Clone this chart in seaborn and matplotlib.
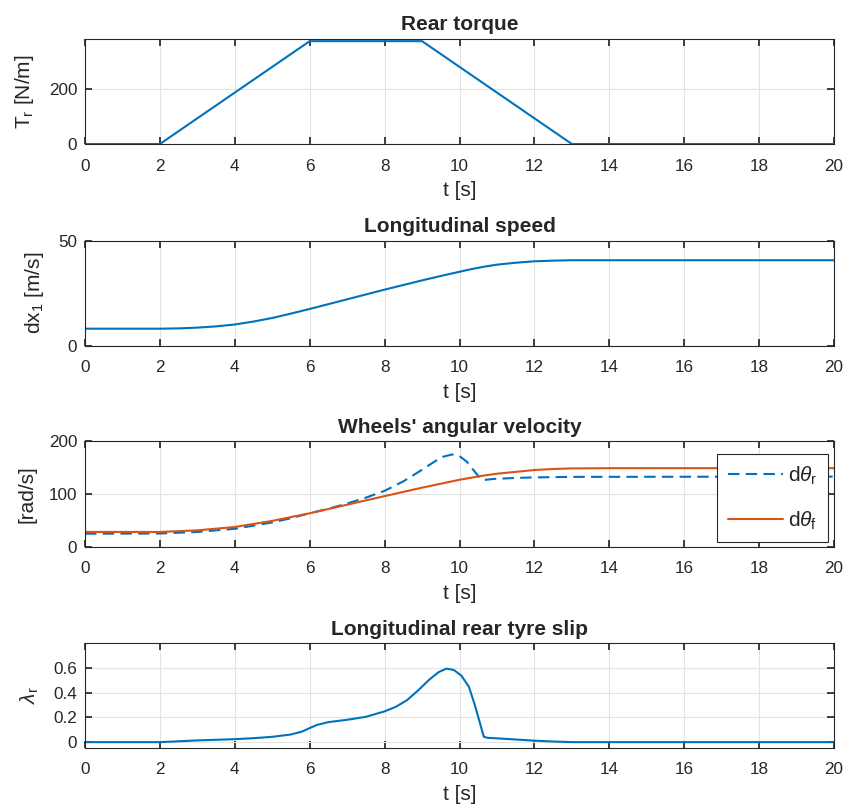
import numpy as np
import pandas as pd
import matplotlib
matplotlib.use("Agg")
import matplotlib.pyplot as plt
import seaborn as sns

# ---------------- data ----------------
t_torque = [0, 2, 6, 9, 13, 20]
torque = [0, 0, 377, 377, 0, 0]

t_speed = [0, 1, 2, 2.5, 3, 3.5, 4, 4.5, 5, 5.5, 6, 6.5, 7, 7.5, 8, 8.5, 9,
           9.5, 10, 10.3, 10.65, 11, 11.5, 12, 12.5, 13, 14, 16, 18, 20]
speed = [8.1, 8.1, 8.1, 8.25, 8.6, 9.2, 10.1, 11.5, 13.2, 15.3, 17.5, 19.8,
         22.1, 24.4, 26.7, 28.9, 31.1, 33.2, 35.2, 36.4, 37.6, 38.6, 39.5,
         40.2, 40.5, 40.7, 40.7, 40.7, 40.7, 40.7]

t_wheel_r = [0, 2, 3, 4, 5, 5.5, 6, 6.5, 7, 7.5, 8, 8.5, 9, 9.3, 9.55, 9.8,
             10, 10.2, 10.4, 10.55, 10.65, 10.9, 11.5, 12, 13, 20]
omega_r = [24.7, 25, 28, 34, 46, 54, 63.6, 72, 82, 93, 106, 124, 146, 160,
           170.5, 175, 172, 161, 143, 130, 126.6, 128.5, 130.5, 131.5, 132.5, 133]
t_wheel_f = [0, 2, 3, 4, 5, 6, 7, 8, 9, 10, 10.6, 11, 11.5, 12, 12.5, 13,
             14, 20]
omega_f = [28, 28, 31, 37.4, 49, 63.4, 79.7, 96, 112, 127, 134.5, 138.5, 142,
           145.5, 147.5, 148.5, 149, 149]

t_slip = [0, 2, 3, 4, 4.5, 5, 5.5, 5.8, 6.0, 6.2, 6.5, 7, 7.5, 8, 8.3, 8.6,
          8.9, 9.2, 9.45, 9.65, 9.85, 10.05, 10.25, 10.4, 10.55, 10.65, 10.75,
          11.2, 12, 12.5, 13, 20]
slip = [0, 0, 0.014, 0.024, 0.032, 0.043, 0.062, 0.086, 0.114, 0.14, 0.162,
        0.181, 0.205, 0.249, 0.286, 0.34, 0.42, 0.508, 0.568, 0.595, 0.584,
        0.538, 0.449, 0.31, 0.15, 0.043, 0.035, 0.027, 0.012, 0.005, 0.0, 0.0]

x_ticks = [0, 2, 4, 6, 8, 10, 12, 14, 16, 18, 20]

titles = ["Rear torque", "Longitudinal speed", "Wheels' angular velocity",
          "Longitudinal rear tyre slip"]
ylabels = [r"T$_\mathrm{r}$ [N/m]", r"dx$_\mathrm{1}$ [m/s]", "[rad/s]",
           r"$\lambda_\mathrm{r}$"]
y_ticks = [[0, 200], [0, 50], [0, 100, 200], [0, 0.2, 0.4, 0.6]]
y_ticklabels = [["0", "200"], ["0", "50"], ["0", "100", "200"],
                ["0", "0.2", "0.4", "0.6"]]
y_lims = [(0, 386), (0, 50), (0, 200), (-0.045, 0.8)]
legend_labels = [r"d$\theta_\mathrm{r}$", r"d$\theta_\mathrm{f}$"]

# ---------------- style ----------------
sns.set_theme(style="ticks")
dark = "#262626"
plt.rcParams.update({
    "font.family": ["Liberation Sans", "DejaVu Sans"],
    "mathtext.fontset": "custom",
    "mathtext.rm": "Liberation Sans",
    "mathtext.it": "Liberation Sans:italic",
    "mathtext.bf": "Liberation Sans:bold",
    "axes.edgecolor": dark,
    "axes.linewidth": 0.8,
    "axes.labelcolor": dark,
    "text.color": dark,
    "xtick.color": dark,
    "ytick.color": dark,
    "xtick.direction": "in",
    "ytick.direction": "in",
    "xtick.top": True,
    "ytick.right": True,
    "xtick.major.size": 5,
    "ytick.major.size": 5,
    "grid.color": "#e3e3e3",
    "grid.linewidth": 0.8,
})

blue = "#0072BD"
orange = "#D95319"

fig = plt.figure(figsize=(8.46, 8.07), dpi=100)
W, H = 846, 807
left_px, right_px = 85, 834
panels_px = [(38.7, 144), (240.7, 345.7), (441.3, 546.7), (643.3, 747.7)]
axes = []
for top, bot in panels_px:
    ax = fig.add_axes([left_px / W, 1 - bot / H, (right_px - left_px) / W,
                       (bot - top) / H])
    axes.append(ax)

df_torque = pd.DataFrame({"t": t_torque, "v": torque})
df_speed = pd.DataFrame({"t": t_speed, "v": speed})
df_wr = pd.DataFrame({"t": t_wheel_r, "v": omega_r})
df_wf = pd.DataFrame({"t": t_wheel_f, "v": omega_f})
df_slip = pd.DataFrame({"t": t_slip, "v": slip})

lw = 1.5
sns.lineplot(data=df_torque, x="t", y="v", ax=axes[0], color=blue, lw=lw,
             estimator=None, sort=False)
sns.lineplot(data=df_speed, x="t", y="v", ax=axes[1], color=blue, lw=lw,
             estimator=None, sort=False)
sns.lineplot(data=df_wr, x="t", y="v", ax=axes[2], color=blue, lw=lw,
             estimator=None, sort=False, label=legend_labels[0],
             linestyle=(0, (5.5, 3)))
sns.lineplot(data=df_wf, x="t", y="v", ax=axes[2], color=orange, lw=lw,
             estimator=None, sort=False, label=legend_labels[1])
sns.lineplot(data=df_slip, x="t", y="v", ax=axes[3], color=blue, lw=lw,
             estimator=None, sort=False)

fs_tick = 12.3
fs_lab = 15
for i, ax in enumerate(axes):
    ax.set_xlim(0, 20)
    ax.set_ylim(*y_lims[i])
    ax.set_xticks(x_ticks)
    ax.set_xticklabels([str(v) for v in x_ticks], fontsize=fs_tick)
    ax.set_yticks(y_ticks[i])
    ax.set_yticklabels(y_ticklabels[i], fontsize=fs_tick)
    ax.grid(True)
    ax.set_axisbelow(True)
    ax.set_xlabel("t [s]", fontsize=fs_lab, labelpad=5.5)
    ax.set_ylabel(ylabels[i], fontsize=fs_lab, labelpad=9)
    ax.set_title(titles[i], fontsize=fs_lab, fontweight="bold", pad=6)
    ax.tick_params(axis="x", pad=10.5)
    ax.tick_params(axis="y", pad=5.5)
    for s in ax.spines.values():
        s.set_visible(True)

leg = axes[2].legend(loc="upper right", bbox_to_anchor=(0.992, 0.88),
                     fontsize=15, frameon=True, fancybox=False,
                     framealpha=1, edgecolor=dark, handlelength=2.65,
                     borderpad=0.5, labelspacing=1.1, handletextpad=0.25,
                     borderaxespad=0)
leg.get_frame().set_linewidth(0.8)

fig.savefig("out.png", dpi=100)
